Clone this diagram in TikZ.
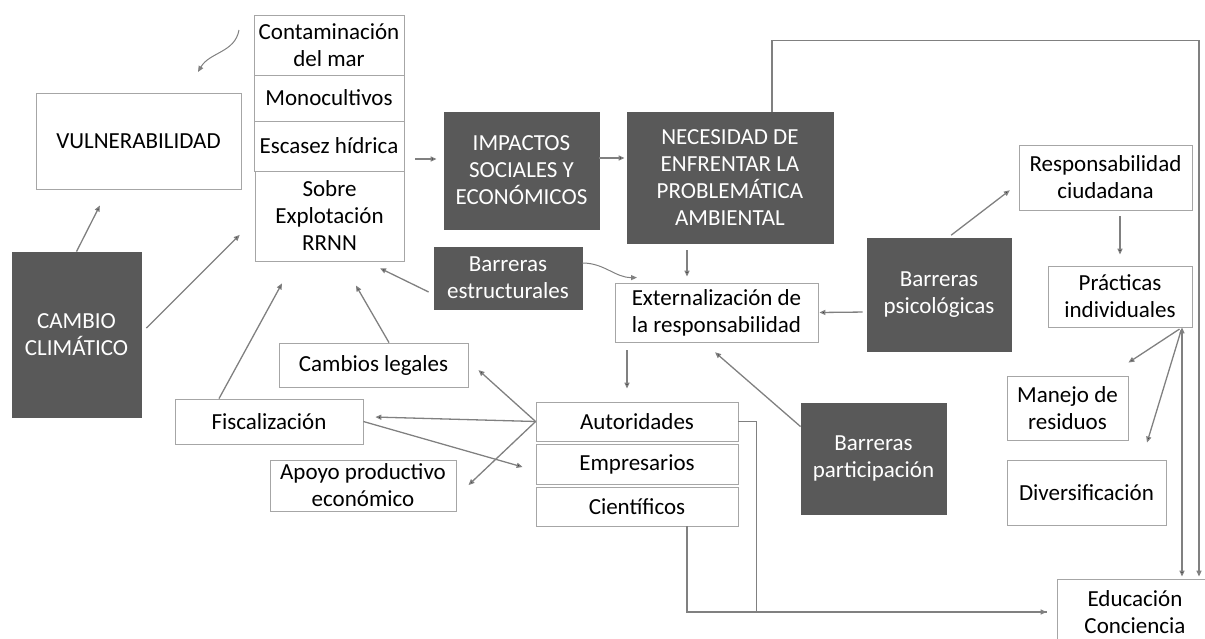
\documentclass[tikz,border=0pt]{standalone}
\usepackage{fontspec}
\setmainfont{Carlito}
\usetikzlibrary{arrows.meta}
\definecolor{linegray}{HTML}{808080}
\definecolor{boxgray}{HTML}{A6A6A6}
\definecolor{darkfill}{HTML}{595959}
\begin{document}
\begin{tikzpicture}[x=1pt,y=-1pt,
   box/.style={draw=boxgray,line width=0.8pt,fill=white,text=black,align=center,inner sep=0pt,
     font=\fontsize{23}{27}\selectfont},
   dbox/.style={box,draw=darkfill,fill=darkfill,text=white},
   arr/.style={draw=linegray,line width=1.3pt,->,>={Triangle[length=6pt,width=5pt]}},
   bus/.style={draw=linegray,line width=1.3pt}]
   \useasboundingbox (0,0) rectangle (1205,638);

   \node[box,minimum width=205pt,minimum height=96pt] (vuln) at (138.5,141) {VULNERABILIDAD};
   \node[box,minimum width=150pt,minimum height=60pt] (conta) at (329,45) {Contaminación\\del mar};
   \node[box,minimum width=150pt,minimum height=46pt] (mono) at (329,98) {Monocultivos};
   \node[box,minimum width=150pt,minimum height=50pt] (escasez) at (329,146) {Escasez hídrica};
   \node[box,minimum width=149pt,minimum height=90pt] (sobre) at (329.5,216) {Sobre\\Explotación\\RRNN};
   \node[dbox,minimum width=129pt,minimum height=165pt] (cambio) at (76.5,334.5) {CAMBIO\\CLIMÁTICO};
   \node[dbox,minimum width=155pt,minimum height=117pt] (impactos) at (521.5,170.5) {IMPACTOS\\SOCIALES Y\\ECONÓMICOS};
   \node[dbox,minimum width=206pt,minimum height=131pt] (necesidad) at (730,177.5) {NECESIDAD DE\\ENFRENTAR LA\\PROBLEMÁTICA\\AMBIENTAL};
   \node[dbox,minimum width=148pt,minimum height=62pt] (bestruct) at (508,278) {Barreras\\estructurales};
   \node[box,minimum width=203pt,minimum height=59pt] (extern) at (716.5,312.5) {Externalización de\\la responsabilidad};
   \node[dbox,minimum width=144pt,minimum height=113pt] (bpsico) at (939,294.5) {Barreras\\psicológicas};
   \node[box,minimum width=173pt,minimum height=65pt] (respons) at (1105.5,177.5) {Responsabilidad\\ciudadana};
   \node[box,minimum width=144pt,minimum height=61pt] (practicas) at (1120,296.5) {Prácticas\\individuales};
   \node[box,minimum width=121pt,minimum height=64pt] (manejo) at (1067.5,408) {Manejo de\\residuos};
   \node[box,minimum width=159pt,minimum height=65pt] (divers) at (1086.5,492.5) {Diversificación};
   \node[box,minimum width=156pt,minimum height=66pt] (educ) at (1135,612) {Educación\\Conciencia};
   \node[dbox,minimum width=145pt,minimum height=111pt] (bpartic) at (873.5,458.5) {Barreras\\participación};
   \node[box,minimum width=189pt,minimum height=44pt] (cambios) at (373.5,365) {Cambios legales};
   \node[box,minimum width=188pt,minimum height=45pt] (fiscal) at (269,421.5) {Fiscalización};
   \node[box,minimum width=186pt,minimum height=51pt] (apoyo) at (363,485.5) {Apoyo productivo\\económico};
   \node[box,minimum width=202pt,minimum height=39pt] (autor) at (637,421.5) {Autoridades};
   \node[box,minimum width=202pt,minimum height=40pt] (empres) at (637,464) {Empresarios};
   \node[box,minimum width=202pt,minimum height=39pt] (cientif) at (637,506.5) {Científicos};

   \coordinate (sqa) at (239,30);
   \coordinate (sqb) at (198,72);
   \draw[arr,line width=1pt] (sqa) to[out=-100,in=60] (sqb);

   \path[arr]
     (cambio.north) edge[shorten >=18pt] ([xshift=-30.5pt]vuln.south)
     ([yshift=1.5pt]cambio.east) edge[shorten <=7pt,shorten >=21pt] ([yshift=-4pt]sobre.west)
     ([yshift=-13pt]escasez.east) edge[shorten <=11pt,shorten >=7pt] ([yshift=11.5pt]impactos.west)
     ([yshift=12.5pt]impactos.east) edge[shorten >=2pt] ([yshift=19.5pt]necesidad.west)
     ([xshift=-43pt]necesidad.south) edge[shorten <=7pt,shorten >=6pt] ([xshift=-29.5pt]extern.north)
     ([yshift=-16.4pt]bestruct.west) edge[shorten <=5.6pt,shorten >=15.6pt] ([xshift=36.5pt]sobre.south)
     ([yshift=-17.5pt]bpsico.west) edge[shorten <=4pt,shorten >=1pt] (extern.east)
     ([xshift=9pt]bpsico.north) edge[shorten <=4pt,shorten >=11pt] ([yshift=-6pt]respons.west)
     ([xshift=14.5pt]respons.south) edge[shorten <=6pt,shorten >=11pt] (practicas.north)
     ([xshift=15.5pt]cambios.north) edge[shorten >=27.8pt] ([xshift=12.5pt]sobre.south)
     ([xshift=-50pt]fiscal.north) edge[shorten >=25pt] ([xshift=-35.5pt]sobre.south)
     (autor.west) edge[shorten >=13.5pt] ([yshift=4pt]cambios.east)
     (autor.west) edge[shorten >=12pt] ([yshift=4.8pt]fiscal.east)
     (autor.west) edge[shorten >=16.6pt] ([yshift=-11pt]apoyo.east)
     (fiscal.east) edge[shorten >=13.5pt] ([yshift=-6.7pt]empres.west)
     ([xshift=-89.5pt]extern.south) edge[shorten <=8pt,shorten >=13pt] ([xshift=-10pt]autor.north)
     ([yshift=-24pt]bpartic.north west) edge[shorten >=15pt] ([xshift=-12.8pt]extern.south)
     ([xshift=62pt]practicas.south) edge[shorten <=3pt] ([yshift=13pt]manejo.north east)
     ([xshift=62pt]practicas.south) edge[shorten <=3pt] ([xshift=60.5pt,yshift=17pt]divers.north)
     ([xshift=62pt]practicas.south) edge[shorten <=3pt,shorten >=2pt] ([xshift=47pt]educ.north);

   \draw[arr,line width=1pt] ([yshift=15pt]bestruct.east) to[out=0,in=180] ([xshift=-79.5pt,yshift=5pt]extern.north);
   \draw[arr,shorten >=2pt] ([xshift=42pt]necesidad.north) -- ++(0,-71) -| ([xshift=64pt]educ.north);
   \draw[bus,shorten >=10pt] (autor.east) -- ++(18,0) |- (educ.west);
   \draw[arr,shorten >=10pt] ([xshift=50pt]cientif.south) |- (educ.west);
  \end{tikzpicture}
\end{document}
